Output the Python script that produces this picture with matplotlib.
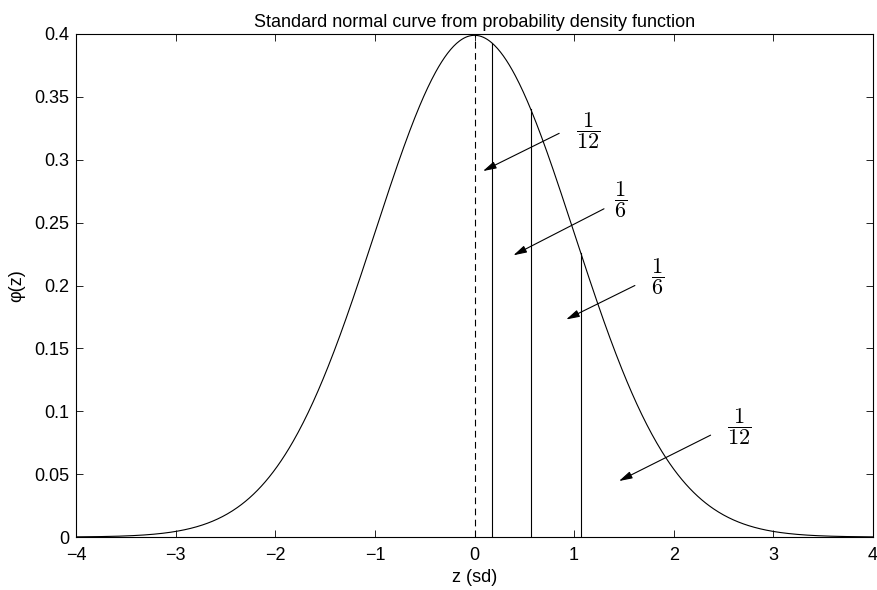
import numpy as np
import matplotlib
matplotlib.use("Agg")
import matplotlib.pyplot as plt

plt.rcParams['font.family'] = ['Liberation Sans', 'DejaVu Sans']
plt.rcParams['mathtext.fontset'] = 'cm'

# standard normal pdf on [-4, 4]
z = np.linspace(-4, 4, 801)
phi = np.exp(-z ** 2 / 2) / np.sqrt(2 * np.pi)

# vertical dividers
cuts = [0.18, 0.565, 1.067]

# area labels and their arrows (tail -> tip)
labels = [r'$\dfrac{1}{12}$', r'$\dfrac{1}{6}$', r'$\dfrac{1}{6}$', r'$\dfrac{1}{12}$']
label_xy = [(1.14, 0.323), (1.47, 0.268), (1.84, 0.207), (2.66, 0.0875)]
tails = [(0.85, 0.321), (1.30, 0.261), (1.61, 0.200), (2.37, 0.081)]
tips = [(0.085, 0.291), (0.39, 0.224), (0.92, 0.173), (1.45, 0.0445)]

xticks = [-4, -3, -2, -1, 0, 1, 2, 3, 4]
yticks = [0, 0.05, 0.1, 0.15, 0.2, 0.25, 0.3, 0.35, 0.4]


def pdf(x):
    return np.exp(-x ** 2 / 2) / np.sqrt(2 * np.pi)


fig = plt.figure(figsize=(8.77, 5.90), dpi=100)
ax = fig.add_axes([0.0867, 0.0898, 0.9087, 0.8526])

ax.plot(z, phi, color='k', lw=0.8)
ax.plot([0, 0], [0, pdf(0)], color='k', lw=0.8, linestyle=(0, (6, 4)))
for c in cuts:
    ax.plot([c, c], [0, pdf(c)], color='k', lw=0.8)

for lab, (lx, ly), t, h in zip(labels, label_xy, tails, tips):
    ax.annotate('', xy=h, xytext=t,
                arrowprops=dict(arrowstyle='-|>,head_length=0.8,head_width=0.22',
                                color='k', lw=0.8, shrinkA=0, shrinkB=0))
    ax.text(lx, ly, lab, fontsize=16, ha='center', va='center')

ax.set_xlim(-4, 4)
ax.set_ylim(0, 0.4)
ax.set_xticks(xticks)
ax.set_yticks(yticks)
ax.set_xticklabels(['\u22124', '\u22123', '\u22122', '\u22121', '0', '1', '2', '3', '4'])
ax.set_yticklabels(['0', '0.05', '0.1', '0.15', '0.2', '0.25', '0.3', '0.35', '0.4'])
ax.tick_params(direction='in', top=True, right=True, length=5, width=0.6,
               labelsize=13)
ax.tick_params(axis='x', pad=7)
ax.tick_params(axis='y', pad=5)
for s in ax.spines.values():
    s.set_linewidth(0.8)

ax.set_title('Standard normal curve from probability density function', fontsize=13, pad=5)
ax.set_xlabel('z (sd)', fontsize=13, labelpad=4)
ax.set_ylabel('\u03c6(z)', fontsize=13, labelpad=6)

fig.savefig('out.png', dpi=100)
